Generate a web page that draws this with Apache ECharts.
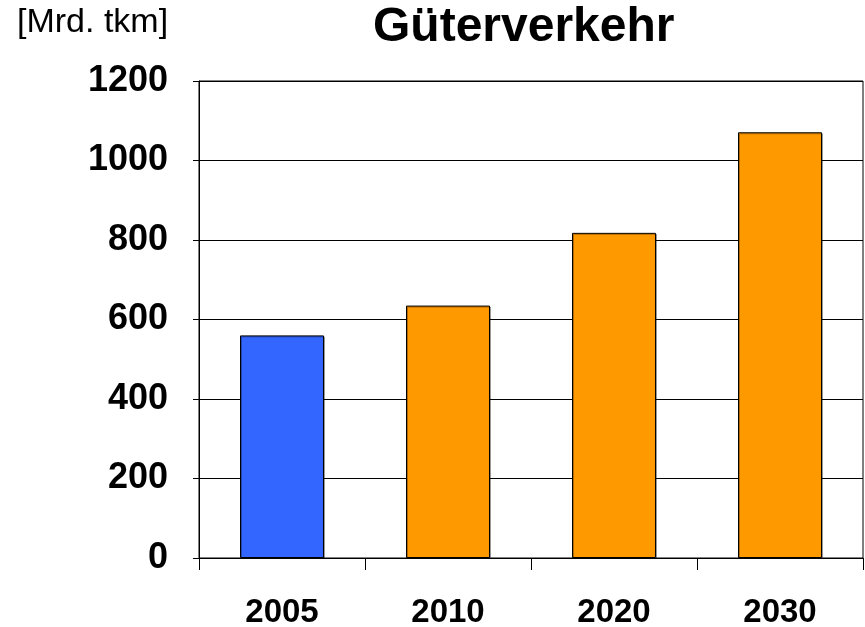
<!DOCTYPE html>
<html>
<head>
<meta charset="utf-8">
<script src="https://cdn.jsdelivr.net/npm/echarts@6/dist/echarts.min.js"></script>
<style>
  html, body { margin: 0; padding: 0; background: #fff; }
  #chart { width: 865px; height: 627px; }
</style>
</head>
<body>
<div id="chart"></div>
<script>
// data
const years = ['2005', '2010', '2020', '2030'];
const freight = [560, 635, 818, 1071];
const yTicks = [0, 200, 400, 600, 800, 1000, 1200];

const font = 'Liberation Sans, Arial, sans-serif';
const blue = '#3366FF';
const orange = '#FF9900';

const myChart = echarts.init(document.getElementById('chart'));

const option = {
    backgroundColor: '#ffffff',
    animation: false,
    title: [{
        text: 'Güterverkehr',
        left: 373,
        top: 4,
        padding: 0,
        textStyle: { fontFamily: font, fontSize: 48, fontWeight: 'bold', color: '#000' }
    }, {
        text: '[Mrd. tkm]',
        left: 17,
        top: 6,
        padding: 0,
        textStyle: { fontFamily: font, fontSize: 34, fontWeight: 'normal', color: '#000' }
    }],
    grid: {
        left: 199,
        right: 2,
        top: 81,
        bottom: 69,
        outerBoundsMode: 'none',
        show: true,
        borderColor: '#000',
        borderWidth: 1
    },
    xAxis: {
        type: 'category',
        data: years,
        axisLine: { show: true, lineStyle: { color: '#000', width: 1 } },
        axisTick: { show: true, length: 12, lineStyle: { color: '#000' } },
        axisLabel: {
            margin: 38,
            fontFamily: font,
            fontSize: 33,
            fontWeight: 'bold',
            color: '#000'
        }
    },
    yAxis: {
        type: 'value',
        min: yTicks[0],
        max: yTicks[yTicks.length - 1],
        interval: yTicks[1] - yTicks[0],
        axisLine: { show: true, lineStyle: { color: '#000', width: 1 } },
        axisTick: { show: true, length: 6, lineStyle: { color: '#000' } },
        axisLabel: {
            margin: 31,
            fontFamily: font,
            fontSize: 36,
            fontWeight: 'bold',
            color: '#000',
            formatter: v => String(v)
        },
        splitLine: { show: true, lineStyle: { color: '#000', width: 1 } }
    },
    series: [{
        type: 'bar',
        data: freight,
        barWidth: '50.6%',
        itemStyle: {
            color: p => (p.dataIndex === 0 ? blue : orange),
            borderColor: '#000',
            borderWidth: 1,
            shadowColor: 'rgba(0,0,0,0.3)',
            shadowOffsetX: 1,
            shadowOffsetY: 1
        },
        z: 3
    }]
};

myChart.setOption(option);
window.addEventListener('resize', () => myChart.resize());
</script>
</body>
</html>
